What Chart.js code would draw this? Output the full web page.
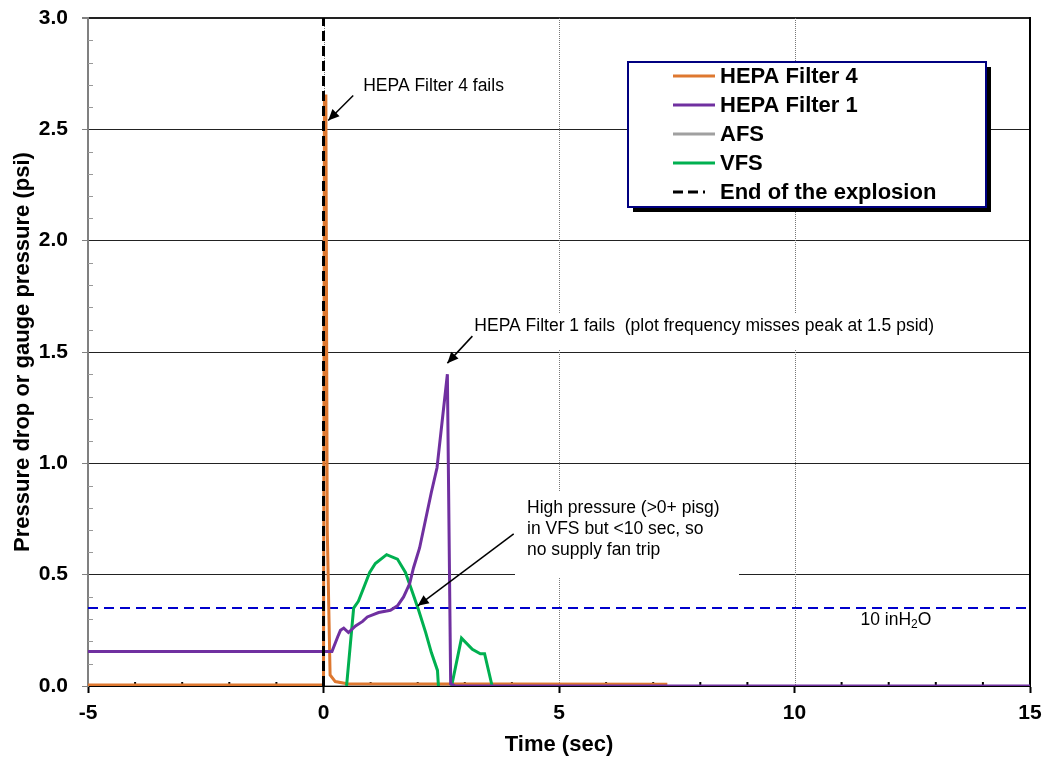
<!DOCTYPE html>
<html>
<head>
<meta charset="utf-8">
<script src="https://cdn.jsdelivr.net/npm/chart.js@4"></script>
<style>
  body { margin: 0; background: #fff; }
  canvas { display: block; }
</style>
</head>
<body>
<canvas id="chart" width="1050" height="763"></canvas>
<script>
const FONT = '"Liberation Sans", Arial, sans-serif';

// time (sec) and pressure (psi)
const hepa4Time = [-5, 0, 0.02, 0.05, 0.08, 0.14, 0.25, 0.5, 7.3];
const hepa4Psi = [0.005, 0.005, 2.65, 2.65, 0.7, 0.05, 0.02, 0.01, 0.008];

const hepa1Time = [-5, 0.18, 0.3, 0.36, 0.43, 0.53, 0.68, 0.83, 0.93, 1.17, 1.42, 1.57, 1.7, 1.83, 1.91, 2.04, 2.17, 2.29, 2.41, 2.63, 2.7, 2.8, 15];
const hepa1Psi = [0.155, 0.155, 0.22, 0.25, 0.26, 0.24, 0.27, 0.29, 0.31, 0.33, 0.34, 0.36, 0.4, 0.46, 0.53, 0.62, 0.75, 0.87, 0.98, 1.4, 0.01, 0, 0];

const afsTime = [-5, 15];
const afsPsi = [0, 0];

const vfsTime = [0.49, 0.64, 0.74, 0.87, 0.98, 1.1, 1.34, 1.57, 1.74, 1.89, 2.02, 2.17, 2.29, 2.42, 2.44, 2.58, 2.72, 2.93, 3.16, 3.33, 3.42, 3.58];
const vfsPsi = [0, 0.35, 0.38, 0.45, 0.51, 0.55, 0.59, 0.57, 0.51, 0.42, 0.34, 0.24, 0.15, 0.07, 0, null, 0, 0.215, 0.165, 0.145, 0.145, 0];

const explosionTime = [0, 0];
const explosionPsi = [0, 3];

const limitTime = [-5, 15];
const limitPsi = [0.35, 0.35]; // 10 inH2O

const legendNames = ['HEPA Filter 4', 'HEPA Filter 1', 'AFS', 'VFS', 'End of the explosion'];

const toPoints = (xs, ys) => xs.map((x, i) => ({ x: x, y: ys[i] }));

const lineDefaults = { pointRadius: 0, borderWidth: 3, tension: 0, fill: false, spanGaps: false };

const arrow = (ctx, x1, y1, x2, y2) => {
  ctx.save();
  ctx.strokeStyle = '#000';
  ctx.fillStyle = '#000';
  ctx.lineWidth = 1.5;
  ctx.beginPath();
  ctx.moveTo(x1, y1);
  ctx.lineTo(x2, y2);
  ctx.stroke();
  const a = Math.atan2(y2 - y1, x2 - x1);
  const len = 11, w = 5;
  ctx.beginPath();
  ctx.moveTo(x2, y2);
  ctx.lineTo(x2 - len * Math.cos(a) + w * Math.sin(a), y2 - len * Math.sin(a) - w * Math.cos(a));
  ctx.lineTo(x2 - len * Math.cos(a) - w * Math.sin(a), y2 - len * Math.sin(a) + w * Math.cos(a));
  ctx.closePath();
  ctx.fill();
  ctx.restore();
};

const decorations = {
  id: 'decorations',
  beforeDatasetsDraw(chart) {
    const { ctx, chartArea, scales } = chart;
    const xs = scales.x, ys = scales.y;
    ctx.save();
    // dotted vertical grid
    ctx.strokeStyle = '#777';
    ctx.lineWidth = 1;
    ctx.setLineDash([1, 1]);
    [0, 5, 10].forEach(v => {
      const px = Math.round(xs.getPixelForValue(v)) + 0.5;
      ctx.beginPath();
      ctx.moveTo(px, chartArea.top);
      ctx.lineTo(px, chartArea.bottom);
      ctx.stroke();
    });
    ctx.setLineDash([]);
    // right border
    ctx.strokeStyle = '#000';
    ctx.lineWidth = 2;
    ctx.beginPath();
    ctx.moveTo(chartArea.right, chartArea.top - 1);
    ctx.lineTo(chartArea.right, chartArea.bottom);
    ctx.stroke();
    // minor ticks
    ctx.lineWidth = 2;
    for (let t = -4; t < 15; t++) {
      if (t % 5 === 0) continue;
      const px = xs.getPixelForValue(t);
      ctx.beginPath();
      ctx.moveTo(px, chartArea.bottom);
      ctx.lineTo(px, chartArea.bottom - 4);
      ctx.stroke();
    }
    ctx.strokeStyle = '#999';
    ctx.lineWidth = 1;
    for (let i = 1; i < 30; i++) {
      if (i % 5 === 0) continue;
      const py = Math.round(ys.getPixelForValue(i / 10)) + 0.5;
      ctx.beginPath();
      ctx.moveTo(chartArea.left, py);
      ctx.lineTo(chartArea.left + 5, py);
      ctx.stroke();
    }
    // white boxes behind the notes
    ctx.fillStyle = '#fff';
    ctx.fillRect(470, 314, 520, 36);
    ctx.fillRect(515, 492, 224, 85);
    ctx.restore();
  },
  afterDatasetsDraw(chart) {
    const { ctx, scales } = chart;
    const xs = scales.x, ys = scales.y;
    ctx.save();
    ctx.fillStyle = '#000';
    ctx.font = '17.5px ' + FONT;
    ctx.textBaseline = 'middle';
    ctx.textAlign = 'left';

    // HEPA Filter 4 fails
    let hx = xs.getPixelForValue(0.1), hy = ys.getPixelForValue(2.54);
    arrow(ctx, hx + 25, hy - 25, hx, hy);
    ctx.fillText('HEPA Filter 4 fails', hx + 35, hy - 34);

    // HEPA Filter 1 fails
    hx = xs.getPixelForValue(2.63); hy = ys.getPixelForValue(1.45);
    arrow(ctx, hx + 25, hy - 27, hx, hy);
    ctx.fillText('HEPA Filter 1 fails  (plot frequency misses peak at 1.5 psid)', hx + 27, hy - 37);

    // VFS note
    hx = xs.getPixelForValue(2.0); hy = ys.getPixelForValue(0.36);
    arrow(ctx, hx + 96, hy - 72, hx, hy);
    ['High pressure (>0+ pisg)', 'in VFS but <10 sec, so', 'no supply fan trip'].forEach((s, i) => {
      ctx.fillText(s, 527, 508 + i * 21);
    });

    // 10 inH2O label
    const lx = xs.getPixelForValue(11.4), ly = ys.getPixelForValue(0.35) + 12;
    ctx.fillText('10 inH', lx, ly);
    let w = ctx.measureText('10 inH').width;
    ctx.font = '12px ' + FONT;
    ctx.fillText('2', lx + w, ly + 5);
    w += ctx.measureText('2').width;
    ctx.font = '17.5px ' + FONT;
    ctx.fillText('O', lx + w, ly);

    // legend
    const bx = 628, by = 62, bw = 358, bh = 145;
    ctx.fillStyle = '#000';
    ctx.fillRect(bx + 5, by + 5, bw, bh);
    ctx.fillStyle = '#fff';
    ctx.fillRect(bx, by, bw, bh);
    ctx.strokeStyle = '#000080';
    ctx.lineWidth = 2;
    ctx.strokeRect(bx, by, bw, bh);
    ctx.font = 'bold 22px ' + FONT;
    chart.data.datasets.forEach(ds => {
      const idx = legendNames.indexOf(ds.label);
      if (idx < 0) return;
      const y = 76 + idx * 29;
      ctx.strokeStyle = ds.borderColor;
      ctx.lineWidth = 3;
      ctx.setLineDash(ds.borderDash || []);
      ctx.beginPath();
      ctx.moveTo(673, y);
      ctx.lineTo(ds.borderDash ? 705 : 715, y);
      ctx.stroke();
      ctx.setLineDash([]);
      ctx.fillStyle = '#000';
      ctx.fillText(ds.label, 720, y + 1);
    });
    ctx.restore();
  }
};

new Chart(document.getElementById('chart'), {
  type: 'line',
  data: {
    datasets: [
      { ...lineDefaults, label: 'HEPA Filter 4', data: toPoints(hepa4Time, hepa4Psi), borderColor: '#DE7830', order: 3 },
      { ...lineDefaults, label: 'HEPA Filter 1', data: toPoints(hepa1Time, hepa1Psi), borderColor: '#7030A0', order: 1 },
      { ...lineDefaults, label: 'AFS', data: toPoints(afsTime, afsPsi), borderColor: '#A0A0A0', borderWidth: 2, order: 6 },
      { ...lineDefaults, label: 'VFS', data: toPoints(vfsTime, vfsPsi), borderColor: '#00B050', order: 2 },
      { ...lineDefaults, label: 'End of the explosion', data: toPoints(explosionTime, explosionPsi), borderColor: '#000', borderDash: [10, 5], order: 0 },
      { ...lineDefaults, label: '10 inH2O', data: toPoints(limitTime, limitPsi), borderColor: '#0000CC', borderWidth: 2, borderDash: [10, 6], order: 5 }
    ]
  },
  options: {
    responsive: false,
    animation: false,
    layout: { padding: { top: 18, right: 20, left: 0, bottom: 0 } },
    plugins: {
      legend: { display: false },
      tooltip: { enabled: false }
    },
    scales: {
      x: {
        type: 'linear',
        min: -5,
        max: 15,
        afterFit: (scale) => { scale.height = 77; scale.paddingLeft = 0; scale.paddingRight = 0; },
        ticks: { stepSize: 5, color: '#000', font: { family: FONT, size: 21, weight: 'bold' }, padding: 8, maxRotation: 0 },
        grid: { drawOnChartArea: false, tickLength: 7, tickColor: '#000', tickWidth: 2 },
        border: { color: '#000', width: 2 },
        title: { display: true, text: 'Time (sec)', color: '#000', font: { family: FONT, size: 22, weight: 'bold' }, padding: { top: 0, bottom: 5 } }
      },
      y: {
        min: 0,
        max: 3,
        afterFit: (scale) => { scale.width = 88; scale.paddingTop = 0; scale.paddingBottom = 0; },
        ticks: { stepSize: 0.5, color: '#000', font: { family: FONT, size: 21, weight: 'bold' }, padding: 14, callback: (v) => v.toFixed(1) },
        grid: {
          color: (c) => c.tick && c.tick.value === 0 ? 'rgba(0,0,0,0)' : '#222',
          lineWidth: (c) => c.tick && c.tick.value === 3 ? 2 : 1,
          tickLength: 6,
          tickColor: '#808080'
        },
        border: { color: '#808080', width: 2 },
        title: { display: true, text: 'Pressure drop or gauge pressure (psi)', color: '#000', font: { family: FONT, size: 22, weight: 'bold' }, padding: { top: 10, bottom: 0 } }
      }
    }
  },
  plugins: [decorations]
});
</script>
</body>
</html>
